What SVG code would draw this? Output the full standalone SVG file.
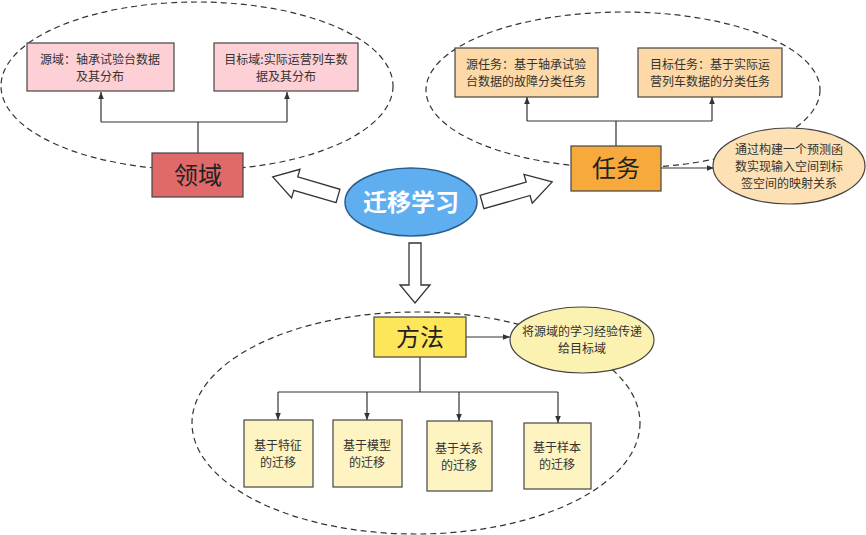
<svg xmlns="http://www.w3.org/2000/svg" width="866" height="535" viewBox="0 0 866 535">
<style>
.t{font-family:"Noto Sans CJK SC","Noto Sans",sans-serif;fill:#333;text-anchor:middle;}
.s{font-size:12px;}
.big{font-size:24px;font-weight:bold;fill:#222;}
.dash{fill:none;stroke:#333;stroke-width:1.2;stroke-dasharray:6 4;}
.ln{fill:none;stroke:#333;stroke-width:1.2;}
.box{stroke:#444;stroke-width:1.2;}
.hol{fill:#fff;stroke:#333;stroke-width:1.3;}
</style>
<defs>
<marker id="ah" viewBox="0 0 10 10" refX="10" refY="5" markerWidth="7" markerHeight="7" orient="auto" markerUnits="userSpaceOnUse">
<path d="M0,1 L10,5 L0,9 z" fill="#333"/>
</marker>
</defs>
<rect width="866" height="535" fill="#fff"/>
<g id="regions">
<ellipse class="dash" cx="197" cy="86" rx="196" ry="84"/>
<ellipse class="dash" cx="623" cy="90" rx="197" ry="78"/>
<ellipse class="dash" cx="416" cy="423" rx="224" ry="111"/>
</g>
<g id="connectors">
<path class="ln" d="M198,153 V122 M101,122 H287"/>
<path class="ln" d="M101,122 V92" marker-end="url(#ah)"/>
<path class="ln" d="M287,122 V92" marker-end="url(#ah)"/>
<path class="ln" d="M616,146 V121 M527,121 H712"/>
<path class="ln" d="M527,121 V97" marker-end="url(#ah)"/>
<path class="ln" d="M712,121 V97" marker-end="url(#ah)"/>
<path class="ln" d="M661,168 H714" marker-end="url(#ah)"/>
<path class="ln" d="M466,337 H510" marker-end="url(#ah)"/>
<path class="ln" d="M420,357 V392 M278,392 H558"/>
<path class="ln" d="M278,392 V420" marker-end="url(#ah)"/>
<path class="ln" d="M367,392 V420" marker-end="url(#ah)"/>
<path class="ln" d="M459,392 V421" marker-end="url(#ah)"/>
<path class="ln" d="M558,392 V423" marker-end="url(#ah)"/>
<polygon class="hol" points="0,-7 44,-7 44,-15 68,0 44,15 44,7 0,7" transform="translate(338,196) rotate(196.3)"/>
<polygon class="hol" points="0,-7 48,-7 48,-15 73,0 48,15 48,7 0,7" transform="translate(482,202) rotate(-16)"/>
<polygon class="hol" points="0,-6 42,-6 42,-15 60,0 42,15 42,6 0,6" transform="translate(415,243) rotate(90)"/>
</g>
<g id="n-center">
<ellipse cx="411" cy="202" rx="66" ry="34" fill="#5eaef0" stroke="#2a5d8c" stroke-width="1.5"/>
<text class="t big" x="411" y="211" style="fill:#fff">迁移学习</text>
</g>
<g id="n-domain">
<rect class="box" x="152" y="153" width="91" height="44" fill="#e06a6a"/>
<text class="t big" x="198" y="184" style="font-weight:normal">领域</text>
</g>
<g id="n-src-domain">
<rect class="box" x="27" y="43" width="147" height="48" fill="#fdd0d6"/>
<text class="t s" x="100" y="64">源域：轴承试验台数据</text>
<text class="t s" x="100" y="81">及其分布</text>
</g>
<g id="n-tgt-domain">
<rect class="box" x="214" y="43" width="144" height="48" fill="#fdd0d6"/>
<text class="t s" x="286" y="64">目标域:实际运营列车数</text>
<text class="t s" x="286" y="81">据及其分布</text>
</g>
<g id="n-task">
<rect class="box" x="571" y="146" width="90" height="45" fill="#f7a93c"/>
<text class="t big" x="616" y="177" style="font-weight:normal">任务</text>
</g>
<g id="n-src-task">
<rect class="box" x="455" y="48" width="143" height="49" fill="#fcd9a6"/>
<text class="t s" x="526" y="69">源任务：基于轴承试验</text>
<text class="t s" x="526" y="86">台数据的故障分类任务</text>
</g>
<g id="n-tgt-task">
<rect class="box" x="638" y="48" width="144" height="49" fill="#fcd9a6"/>
<text class="t s" x="710" y="69">目标任务：基于实际运</text>
<text class="t s" x="710" y="86">营列车数据的分类任务</text>
</g>
<g id="n-task-note">
<ellipse cx="789" cy="166" rx="76" ry="38" fill="#fde1b4" stroke="#444" stroke-width="1.2"/>
<text class="t s" x="789" y="154">通过构建一个预测函</text>
<text class="t s" x="789" y="171">数实现输入空间到标</text>
<text class="t s" x="789" y="188">签空间的映射关系</text>
</g>
<g id="n-method">
<rect class="box" x="374" y="317" width="92" height="40" fill="#fde65a"/>
<text class="t big" x="420" y="346" style="font-weight:normal">方法</text>
</g>
<g id="n-method-note">
<ellipse cx="582" cy="340" rx="72" ry="33" fill="#fbf2b1" stroke="#444" stroke-width="1.2"/>
<text class="t s" x="582" y="336">将源域的学习经验传递</text>
<text class="t s" x="582" y="353">给目标域</text>
</g>
<g id="n-m1">
<rect class="box" x="244" y="420" width="69" height="67" fill="#fdf4c1"/>
<text class="t s" x="278" y="450">基于特征</text>
<text class="t s" x="278" y="467">的迁移</text>
</g>
<g id="n-m2">
<rect class="box" x="333" y="420" width="69" height="67" fill="#fdf4c1"/>
<text class="t s" x="367" y="450">基于模型</text>
<text class="t s" x="367" y="467">的迁移</text>
</g>
<g id="n-m3">
<rect class="box" x="427" y="421" width="65" height="70" fill="#fdf4c1"/>
<text class="t s" x="459" y="453">基于关系</text>
<text class="t s" x="459" y="470">的迁移</text>
</g>
<g id="n-m4">
<rect class="box" x="524" y="423" width="67" height="66" fill="#fdf4c1"/>
<text class="t s" x="557" y="452">基于样本</text>
<text class="t s" x="557" y="469">的迁移</text>
</g>
</svg>
